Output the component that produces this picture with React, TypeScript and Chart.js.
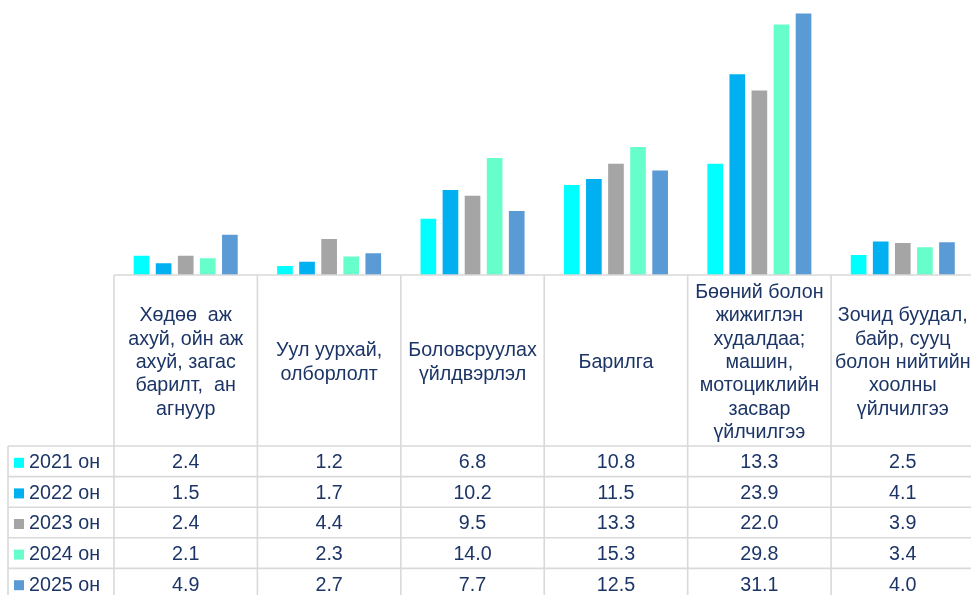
import React, { useEffect, useRef } from "react";
import { Chart, registerables } from "chart.js";

Chart.register(...registerables);

const categories: string[][] = [
  ["Хөдөө  аж", "ахуй, ойн аж", "ахуй, загас", "барилт,  ан", "агнуур"],
  ["Уул уурхай,", "олборлолт"],
  ["Боловсруулах", "үйлдвэрлэл"],
  ["Барилга"],
  ["Бөөний болон", "жижиглэн", "худалдаа;", "машин,", "мотоциклийн", "засвар", "үйлчилгээ"],
  ["Зочид буудал,", "байр, сууц", "болон нийтийн", "хоолны", "үйлчилгээ"],
];

const seriesNames = ["2021 он", "2022 он", "2023 он", "2024 он", "2025 он"];
const values2021 = [2.4, 1.2, 6.8, 10.8, 13.3, 2.5];
const values2022 = [1.5, 1.7, 10.2, 11.5, 23.9, 4.1];
const values2023 = [2.4, 4.4, 9.5, 13.3, 22.0, 3.9];
const values2024 = [2.1, 2.3, 14.0, 15.3, 29.8, 3.4];
const values2025 = [4.9, 2.7, 7.7, 12.5, 31.1, 4.0];
const seriesValues = [values2021, values2022, values2023, values2024, values2025];
const seriesColors = ["#00FFFF", "#00B0F0", "#A5A5A5", "#66FFCC", "#5B9BD5"];

const CANVAS_W = 976;
const CANVAS_H = 595;
const FONT = '19.7px "Liberation Sans", Arial, sans-serif';
const TEXT_COLOR = "#1C3566";
const LINE_COLOR = "#D9D9D9";

const tablePlugin = {
  id: "dataTable",
  afterDraw(chart: any) {
    const ctx = chart.ctx as CanvasRenderingContext2D;
    const area = chart.chartArea;
    const xs = chart.scales.x;
    const n = categories.length;
    const colW = (area.right - area.left) / n;
    const top = area.bottom;
    const headerBottom = top + 171;
    const rowH = 30.6;
    const legendLeft = 8;
    ctx.save();
    ctx.strokeStyle = LINE_COLOR;
    ctx.lineWidth = 1.6;
    ctx.beginPath();
    ctx.moveTo(area.left, top);
    ctx.lineTo(CANVAS_W, top);
    ctx.stroke();
    for (let r = 0; r <= seriesNames.length; r++) {
      const y = headerBottom + r * rowH;
      ctx.beginPath();
      ctx.moveTo(legendLeft, y);
      ctx.lineTo(CANVAS_W, y);
      ctx.stroke();
    }
    ctx.beginPath();
    ctx.moveTo(legendLeft, headerBottom);
    ctx.lineTo(legendLeft, CANVAS_H);
    ctx.stroke();
    for (let i = 0; i <= n; i++) {
      const x = i < n ? xs.getPixelForValue(i) - colW / 2 : xs.getPixelForValue(n - 1) + colW / 2;
      ctx.beginPath();
      ctx.moveTo(x, top);
      ctx.lineTo(x, CANVAS_H);
      ctx.stroke();
    }
    ctx.fillStyle = TEXT_COLOR;
    ctx.font = FONT;
    ctx.textAlign = "center";
    ctx.textBaseline = "middle";
    const lineH = 23.4;
    const headerMid = (top + headerBottom) / 2 + 2;
    categories.forEach((lines, i) => {
      const cx = xs.getPixelForValue(i);
      const startY = headerMid - ((lines.length - 1) * lineH) / 2;
      lines.forEach((ln, k) => ctx.fillText(ln, cx, startY + k * lineH));
    });
    seriesNames.forEach((name, r) => {
      const cy = headerBottom + r * rowH + rowH / 2 + 1.5;
      ctx.fillStyle = seriesColors[r];
      ctx.fillRect(14, cy - 5, 10, 10);
      ctx.fillStyle = TEXT_COLOR;
      ctx.textAlign = "left";
      ctx.fillText(name, 29, cy);
      ctx.textAlign = "center";
      seriesValues[r].forEach((v, i) => {
        ctx.fillText(v.toFixed(1), xs.getPixelForValue(i), cy);
      });
    });
    ctx.restore();
  },
};

export default function App() {
  const ref = useRef<HTMLCanvasElement | null>(null);
  useEffect(() => {
    document.body.style.margin = "0";
    document.body.style.overflow = "hidden";
    if (!ref.current) return;
    const chart = new Chart(ref.current, {
      type: "bar",
      data: {
        labels: categories.map((c) => c.join(" ")),
        datasets: seriesNames.map((name, i) => ({
          label: name,
          data: seriesValues[i],
          backgroundColor: seriesColors[i],
          borderColor: "rgba(255,255,255,0.45)",
          borderWidth: 1,
          categoryPercentage: 0.77,
          barPercentage: 0.8,
        })),
      },
      options: {
        animation: false,
        responsive: false,
        devicePixelRatio: 1,
        layout: { padding: { left: 114, right: CANVAS_W - 974.5, top: 5, bottom: CANVAS_H - 275 } },
        plugins: { legend: { display: false }, tooltip: { enabled: false } },
        scales: {
          x: { display: false, grid: { display: false } },
          y: { display: false, min: 0, max: 32, grid: { display: false } },
        },
      },
      plugins: [tablePlugin],
    });
    return () => chart.destroy();
  }, []);
  return (
    <div style={{ width: 971, height: 595, overflow: "hidden", position: "relative", background: "#fff" }}>
      <canvas ref={ref} width={CANVAS_W} height={CANVAS_H} style={{ width: CANVAS_W, height: CANVAS_H, display: "block" }} />
    </div>
  );
}
